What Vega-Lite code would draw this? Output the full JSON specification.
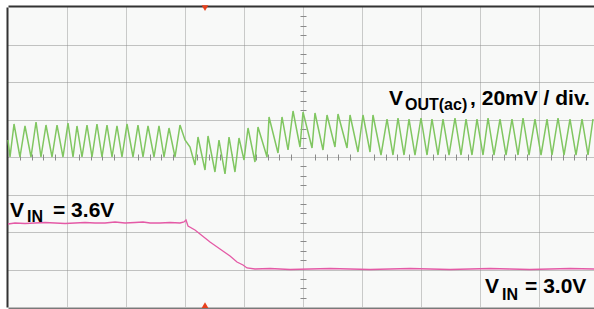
{
  "$schema": "https://vega.github.io/schema/vega-lite/v6.json",
  "autosize": "none",
  "width": 586,
  "height": 300,
  "padding": {"left": 8, "top": 7, "right": 0, "bottom": 2},
  "background": "#ffffff",
  "config": {"view": {"stroke": null, "fill": "#f8f9f8"}},
  "datasets": {
    "vin": [
      {"t": 0, "v": 2.213}, {"t": 0.119, "v": 2.24}, {"t": 0.288, "v": 2.227}, {"t": 0.458, "v": 2.24},
      {"t": 0.627, "v": 2.253}, {"t": 0.797, "v": 2.24}, {"t": 0.966, "v": 2.227}, {"t": 1.136, "v": 2.24},
      {"t": 1.305, "v": 2.253}, {"t": 1.475, "v": 2.24}, {"t": 1.644, "v": 2.24}, {"t": 1.814, "v": 2.267},
      {"t": 1.983, "v": 2.24}, {"t": 2.153, "v": 2.253}, {"t": 2.288, "v": 2.267}, {"t": 2.407, "v": 2.24},
      {"t": 2.576, "v": 2.24}, {"t": 2.746, "v": 2.253}, {"t": 2.915, "v": 2.24}, {"t": 2.983, "v": 2.267},
      {"t": 3.017, "v": 2.32}, {"t": 3.051, "v": 2.16}, {"t": 3.169, "v": 2.053}, {"t": 3.254, "v": 1.947},
      {"t": 3.424, "v": 1.733}, {"t": 3.593, "v": 1.547}, {"t": 3.763, "v": 1.36}, {"t": 3.881, "v": 1.2},
      {"t": 3.983, "v": 1.12}, {"t": 4.051, "v": 1.04}, {"t": 4.186, "v": 1.013}, {"t": 4.441, "v": 1.027},
      {"t": 4.78, "v": 1.0}, {"t": 5.119, "v": 1.013}, {"t": 5.458, "v": 1.027}, {"t": 5.797, "v": 1.013},
      {"t": 6.136, "v": 1.0}, {"t": 6.475, "v": 1.013}, {"t": 6.814, "v": 1.027}, {"t": 7.153, "v": 1.013},
      {"t": 7.492, "v": 1.0}, {"t": 7.831, "v": 1.013}, {"t": 8.169, "v": 1.027}, {"t": 8.508, "v": 1.013},
      {"t": 8.847, "v": 1.0}, {"t": 9.186, "v": 1.013}, {"t": 9.525, "v": 1.027}, {"t": 9.932, "v": 1.013}
    ],
    "vout": [
      {"t": 0, "v": 4.453}, {"t": 0.034, "v": 4.0}, {"t": 0.102, "v": 4.88}, {"t": 0.203, "v": 4.0},
      {"t": 0.288, "v": 4.827}, {"t": 0.39, "v": 4.0}, {"t": 0.475, "v": 4.933}, {"t": 0.559, "v": 4.0},
      {"t": 0.644, "v": 4.853}, {"t": 0.746, "v": 4.0}, {"t": 0.831, "v": 4.853}, {"t": 0.932, "v": 4.0},
      {"t": 1.017, "v": 4.907}, {"t": 1.102, "v": 4.0}, {"t": 1.169, "v": 4.827}, {"t": 1.254, "v": 4.0},
      {"t": 1.339, "v": 4.853}, {"t": 1.424, "v": 4.0}, {"t": 1.508, "v": 4.88}, {"t": 1.593, "v": 4.0},
      {"t": 1.678, "v": 4.853}, {"t": 1.763, "v": 4.0}, {"t": 1.847, "v": 4.827}, {"t": 1.932, "v": 4.0},
      {"t": 2.017, "v": 4.88}, {"t": 2.119, "v": 4.0}, {"t": 2.203, "v": 4.853}, {"t": 2.288, "v": 4.0},
      {"t": 2.373, "v": 4.827}, {"t": 2.475, "v": 4.0}, {"t": 2.559, "v": 4.827}, {"t": 2.644, "v": 4.0},
      {"t": 2.729, "v": 4.773}, {"t": 2.831, "v": 4.0}, {"t": 2.915, "v": 4.853},
      {"t": 3.0, "v": 4.453}, {"t": 3.085, "v": 4.267}, {"t": 3.169, "v": 3.787}, {"t": 3.22, "v": 4.533},
      {"t": 3.339, "v": 3.653}, {"t": 3.39, "v": 4.56}, {"t": 3.508, "v": 3.6}, {"t": 3.576, "v": 4.453},
      {"t": 3.678, "v": 3.547}, {"t": 3.746, "v": 4.533}, {"t": 3.847, "v": 3.6}, {"t": 3.915, "v": 4.507},
      {"t": 4.0, "v": 3.92}, {"t": 4.068, "v": 4.773}, {"t": 4.186, "v": 3.867}, {"t": 4.237, "v": 4.8},
      {"t": 4.39, "v": 4.0}, {"t": 4.424, "v": 5.067}, {"t": 4.576, "v": 4.107}, {"t": 4.644, "v": 5.067},
      {"t": 4.746, "v": 4.187}, {"t": 4.831, "v": 5.227}, {"t": 4.949, "v": 4.267}, {"t": 5.0, "v": 5.2},
      {"t": 5.153, "v": 4.24}, {"t": 5.203, "v": 5.173}, {"t": 5.339, "v": 4.187}, {"t": 5.407, "v": 5.12},
      {"t": 5.542, "v": 4.267}, {"t": 5.593, "v": 5.147}, {"t": 5.746, "v": 4.24}, {"t": 5.797, "v": 5.12},
      {"t": 5.932, "v": 4.133}, {"t": 6.017, "v": 5.12}, {"t": 6.136, "v": 4.133}, {"t": 6.186, "v": 5.12},
      {"t": 6.322, "v": 4.053}, {"t": 6.424, "v": 5.013}, {"t": 6.525, "v": 4.053}, {"t": 6.61, "v": 5.04},
      {"t": 6.712, "v": 4.053}, {"t": 6.797, "v": 5.013}, {"t": 6.898, "v": 4.053}, {"t": 7.0, "v": 5.04},
      {"t": 7.102, "v": 4.053}, {"t": 7.186, "v": 5.013}, {"t": 7.288, "v": 4.053}, {"t": 7.373, "v": 5.013},
      {"t": 7.475, "v": 4.053}, {"t": 7.576, "v": 5.04}, {"t": 7.678, "v": 4.053}, {"t": 7.763, "v": 5.013},
      {"t": 7.864, "v": 4.053}, {"t": 7.949, "v": 5.013}, {"t": 8.051, "v": 4.053}, {"t": 8.136, "v": 5.04},
      {"t": 8.237, "v": 4.053}, {"t": 8.339, "v": 5.013}, {"t": 8.441, "v": 4.053}, {"t": 8.542, "v": 5.013},
      {"t": 8.644, "v": 4.053}, {"t": 8.729, "v": 5.04}, {"t": 8.831, "v": 4.053}, {"t": 8.932, "v": 5.013},
      {"t": 9.034, "v": 4.053}, {"t": 9.136, "v": 5.013}, {"t": 9.22, "v": 4.053}, {"t": 9.322, "v": 5.04},
      {"t": 9.424, "v": 4.053}, {"t": 9.525, "v": 5.013}, {"t": 9.627, "v": 4.053}, {"t": 9.729, "v": 5.013},
      {"t": 9.831, "v": 4.053}, {"t": 9.915, "v": 5.013}
    ],
    "big": [
      {"t": 6.458, "v": 5.387, "label": "V"},
      {"t": 7.831, "v": 5.387, "label": ", 20mV / div."},
      {"t": 0.034, "v": 2.4, "label": "V"},
      {"t": 0.763, "v": 2.4, "label": "= 3.6V"},
      {"t": 8.085, "v": 0.373, "label": "V"},
      {"t": 8.763, "v": 0.373, "label": "= 3.0V"}
    ],
    "sub": [
      {"t": 6.729, "v": 5.253, "label": "OUT(ac)"},
      {"t": 0.322, "v": 2.267, "label": "IN"},
      {"t": 8.373, "v": 0.187, "label": "IN"}
    ],
    "markers_up": [
      {"t": 3.339, "v": 0.05}
    ],
    "markers_down": [
      {"t": 3.339, "v": 7.97}
    ]
  },
  "encoding": {
    "x": {"field": "t", "type": "quantitative", "scale": {"domain": [0, 9.932], "nice": false, "zero": false}},
    "y": {"field": "v", "type": "quantitative", "scale": {"domain": [0, 8], "nice": false, "zero": false}}
  },
  "layer": [
    {
      "data": {"name": "vin"},
      "mark": {"type": "line", "color": "#e45aa6", "strokeWidth": 1.3, "interpolate": "linear"},
      "encoding": {
        "x": {"field": "t", "type": "quantitative", "axis": {"orient": "bottom", "title": null, "labels": false, "ticks": false, "grid": true, "values": [1,2,3,4,5,6,7,8,9], "gridDash": [1, 1], "gridColor": "#9a9a9a", "gridWidth": 1, "domain": true, "domainColor": "#7a7a7a", "domainWidth": 2, "offset": 1}},
        "y": {"field": "v", "type": "quantitative", "axis": {"orient": "left", "title": null, "labels": false, "ticks": false, "grid": true, "values": [1,2,3,4,5,6,7], "gridDash": [1, 1], "gridColor": "#8a8a8a", "gridWidth": 1, "domain": true, "domainColor": "#333333", "domainWidth": 2, "offset": 1}}
      }
    },
    {
      "data": {"name": "vout"},
      "mark": {"type": "line", "color": "#80c661", "strokeWidth": 1.5, "interpolate": "linear"},
      "encoding": {
        "x": {"field": "t", "type": "quantitative", "axis": {"orient": "top", "title": null, "labels": false, "ticks": false, "grid": false, "domain": true, "domainColor": "#333333", "domainWidth": 2, "offset": 1}},
        "y": {"field": "v", "type": "quantitative", "axis": {"orient": "left", "title": null, "labels": false, "grid": false, "domain": false, "ticks": true, "tickSize": 6, "tickColor": "#8a8a8a", "tickWidth": 1, "offset": -298, "values": [0.25,0.5,0.75,1.25,1.5,1.75,2.25,2.5,2.75,3.25,3.5,3.75,4.25,4.5,4.75,5.25,5.5,5.75,6.25,6.5,6.75,7.25,7.5,7.75]}}
      }
    },
    {
      "data": {"name": "markers_up"},
      "mark": {"type": "point", "shape": "triangle-up", "filled": true, "color": "#e8401c", "size": 45, "opacity": 1},
      "encoding": {
        "x": {"field": "t", "type": "quantitative", "axis": {"orient": "bottom", "title": null, "labels": false, "grid": false, "domain": false, "ticks": true, "tickSize": 6, "tickColor": "#8a8a8a", "tickWidth": 1, "offset": -153, "values": [0.2,0.4,0.6,0.8,1.2,1.4,1.6,1.8,2.2,2.4,2.6,2.8,3.2,3.4,3.6,3.8,4.2,4.4,4.6,4.8,5.2,5.4,5.6,5.8,6.2,6.4,6.6,6.8,7.2,7.4,7.6,7.8,8.2,8.4,8.6,8.8,9.2,9.4,9.6,9.8]}},
        "y": {"field": "v", "type": "quantitative", "axis": null}
      }
    },
    {
      "data": {"name": "markers_down"},
      "mark": {"type": "point", "shape": "triangle-down", "filled": true, "color": "#e8401c", "size": 45, "opacity": 1},
      "encoding": {
        "x": {"field": "t", "type": "quantitative", "axis": null},
        "y": {"field": "v", "type": "quantitative", "axis": null}
      }
    },
    {
      "data": {"name": "big"},
      "mark": {"type": "text", "align": "left", "baseline": "alphabetic", "font": "Liberation Sans", "fontWeight": "bold", "fontSize": 21, "color": "#000000"},
      "encoding": {
        "x": {"field": "t", "type": "quantitative", "axis": null},
        "y": {"field": "v", "type": "quantitative", "axis": null},
        "text": {"field": "label"}
      }
    },
    {
      "data": {"name": "sub"},
      "mark": {"type": "text", "align": "left", "baseline": "alphabetic", "font": "Liberation Sans", "fontWeight": "bold", "fontSize": 16, "color": "#000000"},
      "encoding": {
        "x": {"field": "t", "type": "quantitative", "axis": null},
        "y": {"field": "v", "type": "quantitative", "axis": null},
        "text": {"field": "label"}
      }
    }
  ],
  "resolve": {"axis": {"x": "independent", "y": "independent"}}
}
